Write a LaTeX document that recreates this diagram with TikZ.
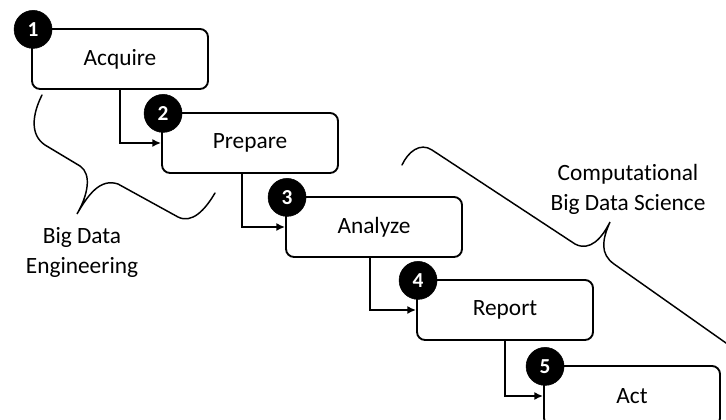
\documentclass[tikz,border=0pt]{standalone}
\usepackage{fontspec}
\setmainfont[Ligatures={NoCommon,NoContextual}]{Carlito}
\usetikzlibrary{arrows.meta}

\tikzset{
  stagebox/.style={draw, line width=1.4pt, rounded corners=6pt, fill=white,
    minimum width=132pt, minimum height=45pt, inner sep=0pt,
    font=\fontsize{17.5}{21}\selectfont},
  stagenum/.style={circle, fill=black, draw=black, minimum size=28.5pt,
    inner sep=0pt, text=white, font=\fontsize{16}{16}\selectfont\bfseries},
  flowline/.style={line width=1.4pt, -{Latex[length=6.5pt,width=6pt]}},
  bracket/.style={line width=1.1pt, line cap=round},
  bracelabel/.style={font=\fontsize{17.5}{22.5}\selectfont, align=center}
}

\begin{document}
\begin{tikzpicture}[x=0.75pt, y=-0.75pt]
 \clip (0,0) rectangle (726,420);
 \fill[white] (0,0) rectangle (726,420);

 % stages
 \foreach \i/\cx/\cy/\name in {1/120/59/Acquire, 2/250/143/Prepare, 3/374/227/Analyze, 4/505/310/Report, 5/632/396/Act} {
   \node[stagebox] (stage\i) at (\cx,\cy) {\name};
 }

 % connectors
 \foreach \i/\j/\dx in {1/2/0, 2/3/-6, 3/4/-3, 4/5/0}
   \draw[flowline] ([xshift=\dx pt]stage\i.south) |- (stage\j.west);

 % step numbers
 \foreach \i in {1,...,5}
   \node[stagenum] (num\i) at ([xshift=1.5pt,yshift=-1pt]stage\i.north west) {\i};

 % braces
 \draw[bracket] (42,95) .. controls (32,115) and (30,135) .. (45,145) -- (80,166)
   .. controls (92,174) and (88,195) .. (77,214)
   .. controls (88,195) and (100,178) .. (118,184) -- (178,217)
   .. controls (192,224) and (205,210) .. (215,193);
 \draw[bracket] (402,165) .. controls (408,152) and (420,142) .. (432,150) -- (575,244)
   .. controls (590,252) and (602,238) .. (610,222)
   .. controls (602,240) and (600,254) .. (614,264) -- (760,367);

 \node[bracelabel] (engLabel) at (82,252) {Big Data\\Engineering};
 \node[bracelabel] (sciLabel) at (628,189) {Computational\\Big Data Science};
\end{tikzpicture}
\end{document}
